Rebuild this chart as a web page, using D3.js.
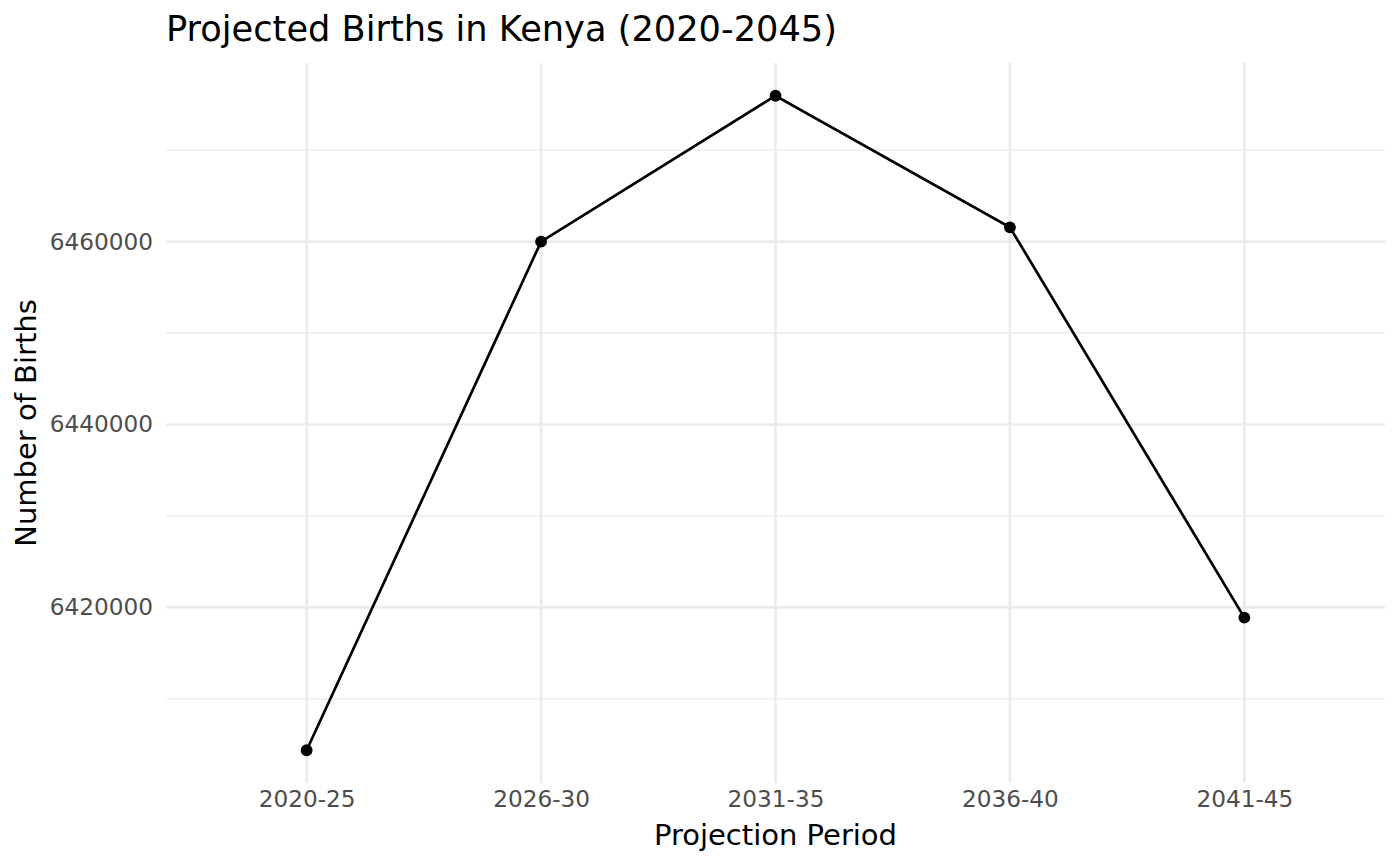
<!DOCTYPE html>
<html>
<head>
<meta charset="utf-8">
<script src="https://cdn.jsdelivr.net/npm/d3@7"></script>
<style>
  body { margin: 0; background: #fff; }
  text { font-family: "DejaVu Sans", sans-serif; }
</style>
</head>
<body>
<svg id="chart" width="1400" height="866"></svg>
<script>
// data
var periods = ["2020-25", "2026-30", "2031-35", "2036-40", "2041-45"];
var births = [6404370, 6460000, 6475950, 6461560, 6418880];
var majorTicks = [6420000, 6440000, 6460000];
var minorTicks = [6410000, 6430000, 6450000, 6470000];

var svg = d3.select("#chart");

// panel box
var panel = { left: 166, right: 1385, top: 63, bottom: 783 };

var x = d3.scalePoint()
    .domain(periods)
    .range([panel.left, panel.right])
    .padding(0.6);

// ggplot style 5% expansion
var lo = d3.min(births), hi = d3.max(births), pad = (hi - lo) * 0.05;
var y = d3.scaleLinear()
    .domain([lo - pad, hi + pad])
    .range([panel.bottom, panel.top]);

var grid = svg.append("g");

// minor horizontal lines
grid.selectAll("line.minor")
  .data(minorTicks)
  .enter().append("line")
    .attr("class", "minor")
    .attr("x1", panel.left).attr("x2", panel.right)
    .attr("y1", function(d){ return y(d); })
    .attr("y2", function(d){ return y(d); })
    .attr("stroke", "#ebebeb")
    .attr("stroke-width", 1.3);

// major horizontal lines
grid.selectAll("line.major")
  .data(majorTicks)
  .enter().append("line")
    .attr("class", "major")
    .attr("x1", panel.left).attr("x2", panel.right)
    .attr("y1", function(d){ return y(d); })
    .attr("y2", function(d){ return y(d); })
    .attr("stroke", "#ebebeb")
    .attr("stroke-width", 2.6);

// vertical lines
grid.selectAll("line.vert")
  .data(periods)
  .enter().append("line")
    .attr("class", "vert")
    .attr("y1", panel.top).attr("y2", panel.bottom)
    .attr("x1", function(d){ return x(d); })
    .attr("x2", function(d){ return x(d); })
    .attr("stroke", "#ebebeb")
    .attr("stroke-width", 2.6);

// axes, ggplot minimal has no lines or tick marks
var xAxis = svg.append("g")
    .attr("transform", "translate(0," + panel.bottom + ")")
    .call(d3.axisBottom(x).tickSize(0).tickPadding(8));
var yAxis = svg.append("g")
    .attr("transform", "translate(" + panel.left + ",0)")
    .call(d3.axisLeft(y).tickValues(majorTicks).tickSize(0).tickPadding(13)
      .tickFormat(d3.format("d")));

[xAxis, yAxis].forEach(function(a){
  a.select(".domain").remove();
  a.selectAll("text")
    .attr("fill", "#4d4d4d")
    .style("font-size", "23.2px")
    .style("font-family", "DejaVu Sans");
});

// line and points
var line = d3.line()
    .x(function(d, i){ return x(periods[i]); })
    .y(function(d){ return y(d); });

svg.append("path")
    .datum(births)
    .attr("d", line)
    .attr("fill", "none")
    .attr("stroke", "#000")
    .attr("stroke-width", 2.7);

svg.selectAll("circle")
  .data(births)
  .enter().append("circle")
    .attr("cx", function(d, i){ return x(periods[i]); })
    .attr("cy", function(d){ return y(d); })
    .attr("r", 5.9)
    .attr("fill", "#000");

// titles
svg.append("text")
    .attr("x", panel.left)
    .attr("y", 41)
    .style("font-size", "35.2px")
    .text("Projected Births in Kenya (2020-2045)");

svg.append("text")
    .attr("x", (panel.left + panel.right) / 2)
    .attr("y", 845)
    .attr("text-anchor", "middle")
    .style("font-size", "29px")
    .text("Projection Period");

svg.append("text")
    .attr("transform", "translate(36," + (panel.top + panel.bottom) / 2 + ") rotate(-90)")
    .attr("text-anchor", "middle")
    .style("font-size", "29px")
    .text("Number of Births");
</script>
</body>
</html>
